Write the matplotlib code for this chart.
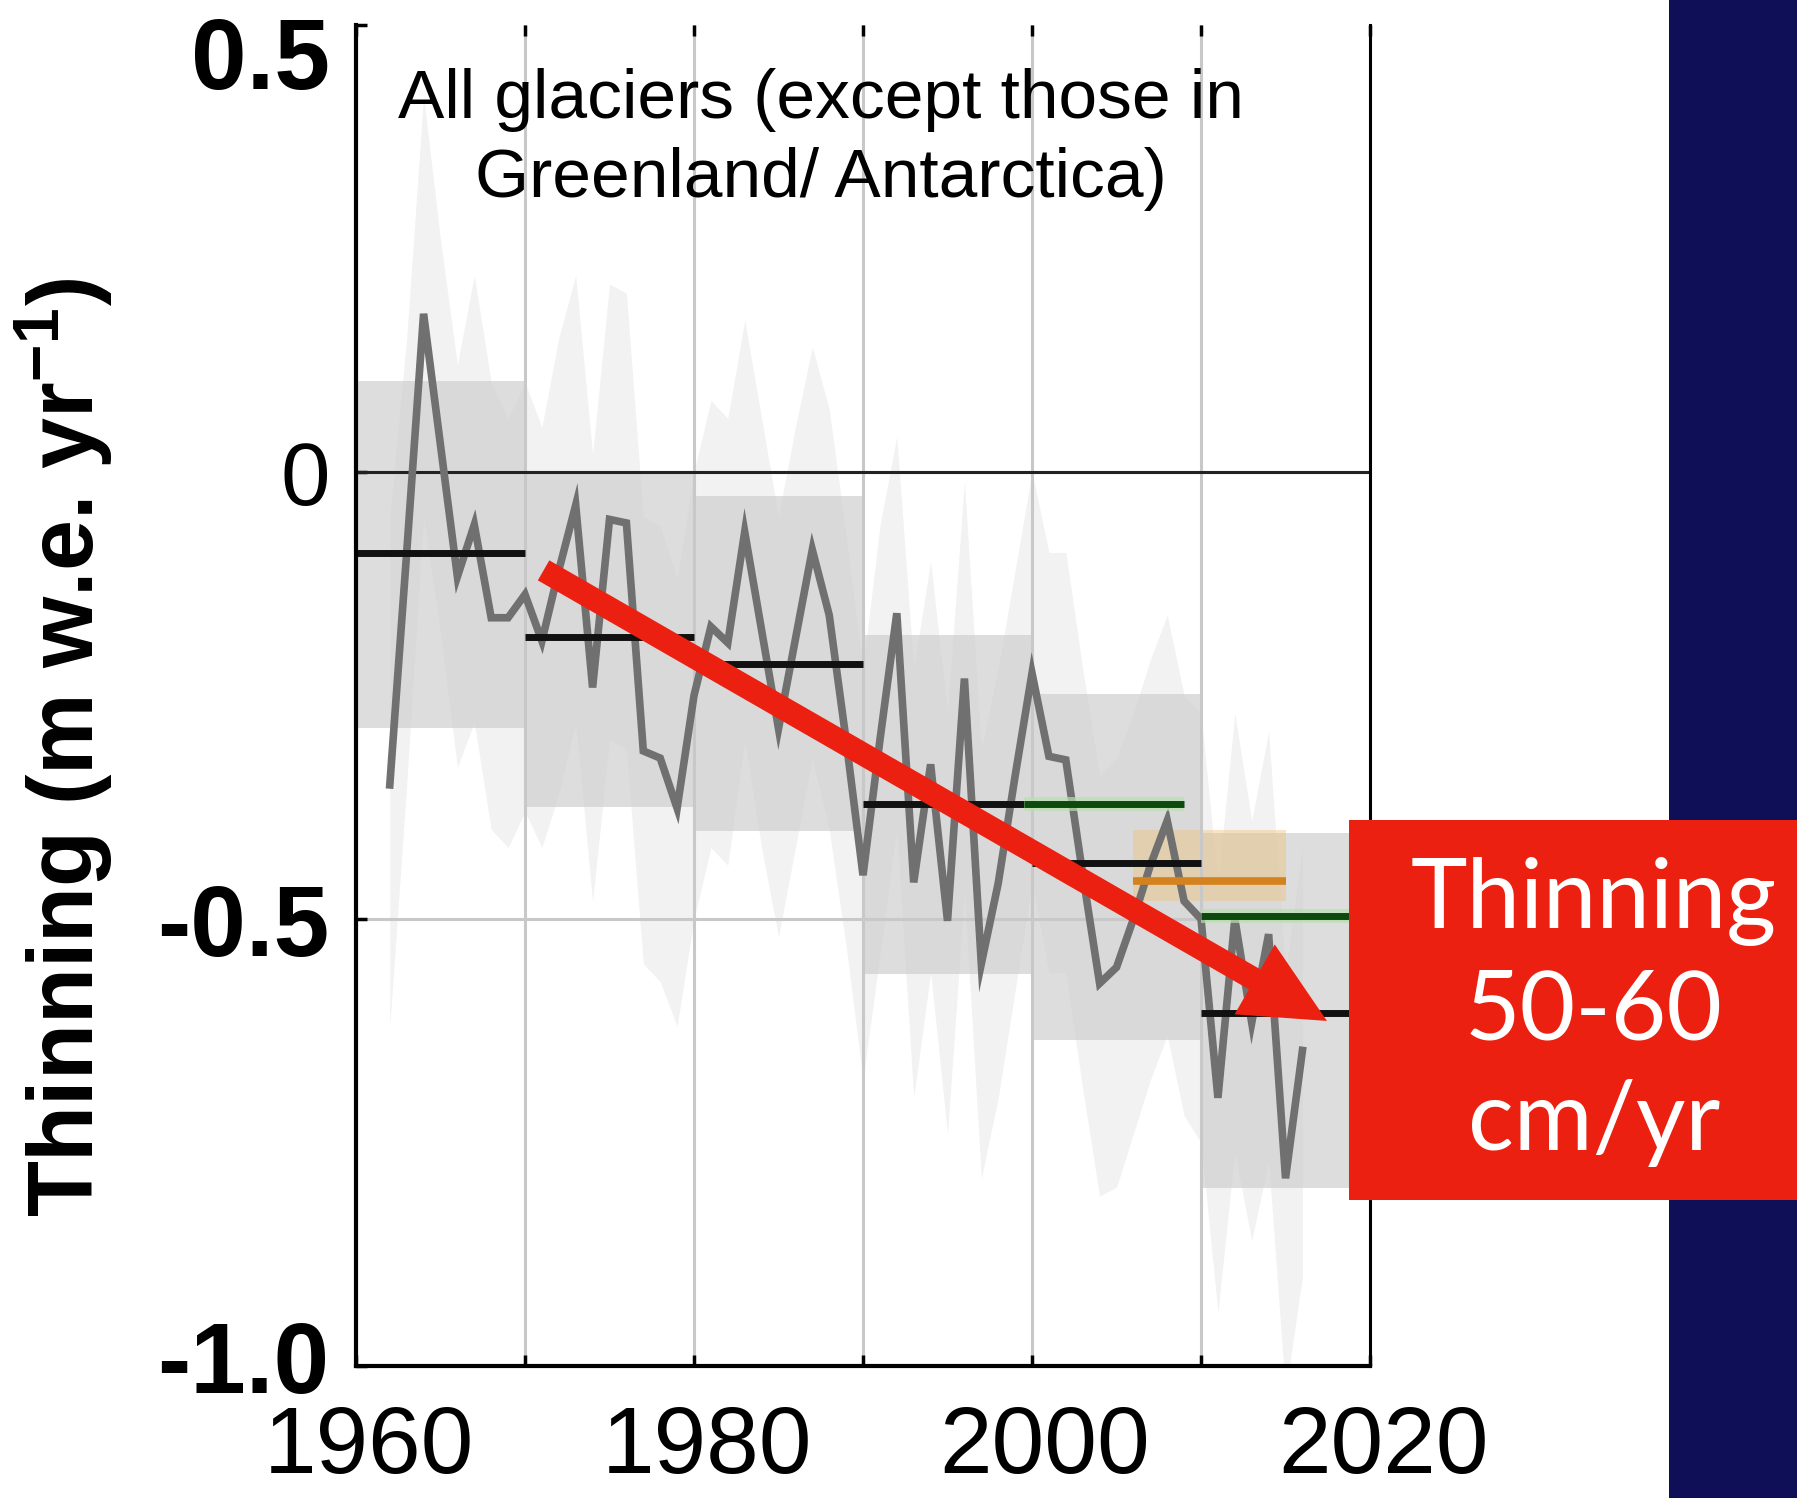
"""Glacier thinning slide: annual global glacier mass balance with decadal
means, re-drawn with the slide annotations (arrow, red call-out, navy bar)."""
import matplotlib as mpl
mpl.use("Agg")
import matplotlib.pyplot as plt
import matplotlib.transforms as mtransforms
from matplotlib.patches import Rectangle, ArrowStyle

mpl.rcParams.update({
    "font.family": "Liberation Sans",
    "axes.unicode_minus": False,
    "mathtext.fontset": "custom",
    "mathtext.rm": "Liberation Sans",
    "mathtext.bf": "Liberation Sans:bold",
    "mathtext.default": "bf",
})

# ---- data (m w.e. per year) ----
years = list(range(1962, 2017))
mass_balance = [
    -0.35, -0.09, 0.177, 0.03, -0.117, -0.059, -0.163, -0.163, -0.137, -0.189,
    -0.11, -0.037, -0.241, -0.053, -0.057, -0.312, -0.32, -0.376, -0.25, -0.173,
    -0.191, -0.067, -0.177, -0.287, -0.187, -0.087, -0.16, -0.30, -0.451, -0.30,
    -0.158, -0.459, -0.327, -0.502, -0.231, -0.55, -0.46, -0.34, -0.225, -0.318,
    -0.322, -0.45, -0.572, -0.554, -0.50, -0.44, -0.39, -0.48, -0.50, -0.70,
    -0.50, -0.616, -0.517, -0.79, -0.647,
]
env_upper = [
    -0.05, 0.15, 0.42, 0.26, 0.12, 0.22, 0.10, 0.06, 0.10, 0.05,
    0.15, 0.22, 0.02, 0.21, 0.20, -0.05, -0.06, -0.12, 0.00, 0.08,
    0.06, 0.17, 0.06, -0.05, 0.05, 0.14, 0.07, -0.07, -0.22, -0.06,
    0.04, -0.22, -0.10, -0.27, -0.01, -0.31, -0.22, -0.11, 0.00, -0.09,
    -0.09, -0.22, -0.34, -0.32, -0.27, -0.21, -0.16, -0.25, -0.27, -0.46,
    -0.27, -0.39, -0.29, -0.56, -0.42,
]
env_lower = [
    -0.62, -0.35, -0.05, -0.18, -0.33, -0.28, -0.40, -0.42, -0.38, -0.42,
    -0.36, -0.28, -0.48, -0.30, -0.31, -0.55, -0.57, -0.62, -0.50, -0.42,
    -0.44, -0.30, -0.42, -0.52, -0.42, -0.32, -0.40, -0.53, -0.68, -0.54,
    -0.40, -0.70, -0.56, -0.74, -0.47, -0.79, -0.70, -0.58, -0.46, -0.56,
    -0.56, -0.69, -0.81, -0.80, -0.74, -0.68, -0.63, -0.72, -0.75, -0.94,
    -0.76, -0.86, -0.77, -1.03, -0.90,
]

decade_start = [1960, 1970, 1980, 1990, 2000, 2010]
decade_end = [1970, 1980, 1990, 2000, 2010, 2019]
decade_mean = [-0.091, -0.185, -0.215, -0.371, -0.437, -0.605]
decade_hi = [0.102, 0.0, -0.027, -0.182, -0.248, -0.404]
decade_lo = [-0.286, -0.375, -0.402, -0.562, -0.635, -0.801]

green_start = [1999.5, 2010]
green_end = [2009, 2019]
green_mean = [-0.371, -0.497]

orange_start, orange_end = 2006, 2015
orange_mean = -0.458
orange_hi, orange_lo = -0.40, -0.48

# slide arrow, in data units (tail -> tip)
arrow_tail = (1971.1, -0.11)
arrow_tip = (2017.45, -0.614)

x_ticks = [1960, 1970, 1980, 1990, 2000, 2010, 2020]
x_tick_labels = ["1960", "", "1980", "", "2000", "", "2020"]
y_ticks = [0.5, 0.0, -0.5, -1.0]
y_tick_labels = ["0.5", "0", "-0.5", "-1.0"]
y_tick_bold = [True, False, True, True]
# the slide's pasted labels sit a little off their ticks (inches, + is up)
y_label_nudge = [-0.27, 0.0, 0.0, 0.10]

title = "All glaciers (except those in\nGreenland/ Antarctica)"
callout = "Thinning\n50-60\ncm/yr"

RED = "#ec2010"
NAVY = "#0f0f57"

fig = plt.figure(figsize=(17.97, 14.98), dpi=100)
ax = fig.add_axes([0.1981, 0.0881, 0.5643, 0.8952])

# annual uncertainty envelope
ax.fill_between(years, env_lower, env_upper, color="#f2f2f2", lw=0, zorder=1)

# decadal uncertainty boxes
for x0, x1, lo, hi in zip(decade_start, decade_end, decade_lo, decade_hi):
    ax.fill_between([x0, x1], [lo, lo], [hi, hi], color="#cfcfcf",
                    alpha=0.7, lw=0, zorder=2)
ax.fill_between([orange_start, orange_end], [orange_lo] * 2, [orange_hi] * 2,
                color="#f0c070", alpha=0.4, lw=0, zorder=2.2)

ax.axhline(0, color="#222222", lw=2.2, zorder=2.6)

# annual series
ax.plot(years, mass_balance, color="#707070", lw=5.5, zorder=3,
        solid_joinstyle="miter")

# decadal means
for x0, x1, m in zip(decade_start, decade_end, decade_mean):
    ax.plot([x0, x1], [m, m], color="#111111", lw=5, zorder=4,
            solid_capstyle="butt")
for x0, x1, m in zip(green_start, green_end, green_mean):
    ax.plot([x0, x1], [m, m], color="#b8e0b0", lw=10, zorder=4.1,
            solid_capstyle="butt", alpha=0.7)
    ax.plot([x0, x1], [m, m], color="#0d4a0d", lw=5, zorder=4.2,
            solid_capstyle="butt")
ax.plot([orange_start, orange_end], [orange_mean] * 2, color="#d4821e",
        lw=5.5, zorder=4.3, solid_capstyle="butt")

ax.set_xlim(1960, 2020)
ax.set_ylim(-1.0, 0.5)
ax.set_xticks(x_ticks)
ax.set_xticklabels(x_tick_labels)
ax.set_yticks(y_ticks)
ax.set_yticklabels(y_tick_labels)

ax.grid(True, color="#c8c8c8", lw=2.2)
ax.set_axisbelow(False)
for gl in ax.get_xgridlines() + ax.get_ygridlines():
    gl.set_zorder(2.5)
# no grid line along the top and bottom edges
ygl = ax.get_ygridlines()
ygl[0].set_visible(False)
ygl[-1].set_visible(False)

ax.spines["top"].set_visible(False)
ax.spines["left"].set_linewidth(3.0)
ax.spines["bottom"].set_linewidth(3.0)
ax.spines["right"].set_linewidth(2.2)
for s in ax.spines.values():
    s.set_zorder(6)

ax.tick_params(axis="x", direction="in", length=8, width=2.5, top=True,
               bottom=True, labelsize=68, pad=27)
ax.tick_params(axis="y", direction="in", length=8, width=2.5, left=True,
               right=False, labelsize=72, pad=19)

shift_x = mtransforms.ScaledTranslation(0.13, 0, fig.dpi_scale_trans)
for lab in ax.get_xticklabels():
    lab.set_transform(lab.get_transform() + shift_x)

for lab, bold, dy in zip(ax.get_yticklabels(), y_tick_bold, y_label_nudge):
    if bold:
        lab.set_fontweight("bold")
    else:
        lab.set_fontsize(64)
    if dy:
        nudge = mtransforms.ScaledTranslation(0, dy, fig.dpi_scale_trans)
        lab.set_transform(lab.get_transform() + nudge)

ax.set_ylabel(r"Thinning (m w.e. yr$^{-1}$)", fontsize=66, fontweight="bold")
ax.yaxis.set_label_coords(-0.2377, 0.461)

ax.text(0.4586, 0.915, title, transform=ax.transAxes, ha="center",
        va="center", fontsize=50, linespacing=1.3, zorder=7)

ax.annotate("", xy=arrow_tip, xytext=arrow_tail,
            arrowprops=dict(arrowstyle=ArrowStyle("simple", head_length=6.0,
                                                  head_width=5.8,
                                                  tail_width=1.66),
                            color=RED, lw=0, mutation_scale=10,
                            shrinkA=0, shrinkB=0),
            zorder=8, annotation_clip=False)

# slide decoration: navy side bar and the red call-out box
fig.add_artist(Rectangle((0.9288, 0), 0.0712, 1, transform=fig.transFigure,
                         color=NAVY, lw=0, zorder=9))
fig.add_artist(Rectangle((0.7507, 0.1989), 0.2493, 0.2537,
                         transform=fig.transFigure, color=RED, lw=0,
                         zorder=10))
fig.text(0.887, 0.3245, callout, ha="center", va="center", color="white",
         fontsize=69, family="Lato", linespacing=1.32, zorder=11)

fig.savefig("out.png", dpi=100)
